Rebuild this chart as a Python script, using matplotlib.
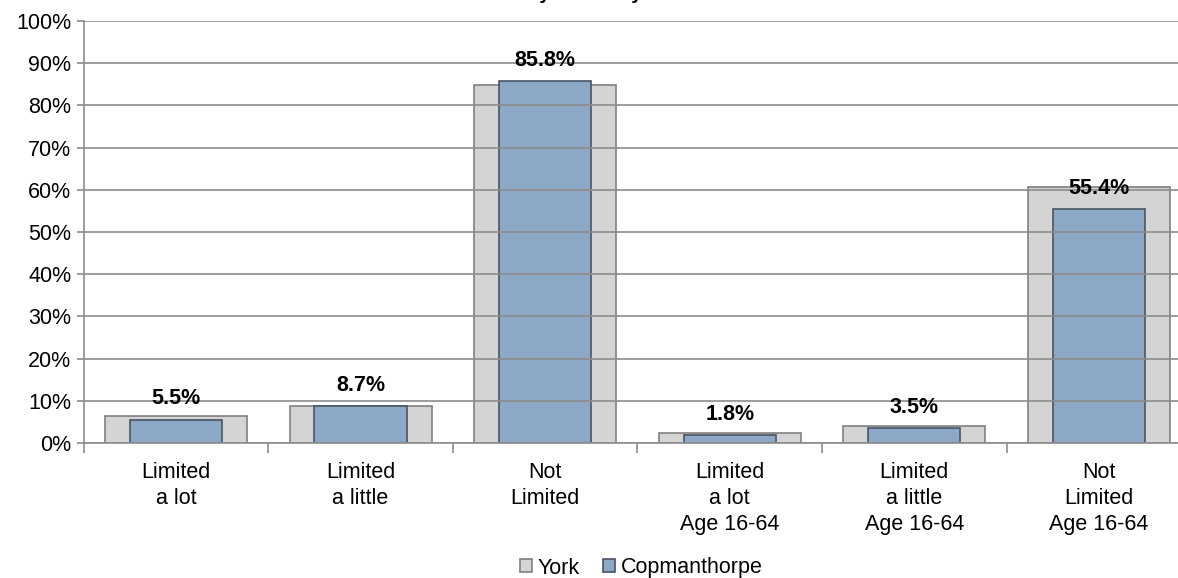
import matplotlib
matplotlib.use("Agg")
import matplotlib.pyplot as plt
import numpy as np

plt.rcParams['font.family'] = ['Liberation Sans', 'DejaVu Sans']

categories = ["Limited\na lot", "Limited\na little", "Not\nLimited",
              "Limited\na lot\nAge 16-64", "Limited\na little\nAge 16-64",
              "Not\nLimited\nAge 16-64"]
york = [6.5, 8.8, 84.8, 2.4, 4.0, 60.6]
copmanthorpe = [5.5, 8.7, 85.8, 1.8, 3.5, 55.4]
yticks = [0, 10, 20, 30, 40, 50, 60, 70, 80, 90, 100]

fig = plt.figure(figsize=(11.78, 5.78), dpi=100)
# plot area runs a little past the right edge, as in the original
ax = fig.add_axes([0.0711, 0.2336, 0.940, 0.730])

x = np.arange(len(categories))
ax.bar(x, york, width=0.77, color="#D4D4D4", edgecolor="#808080",
       linewidth=1.2, label="York", zorder=1)
ax.bar(x, copmanthorpe, width=0.50, color="#8DA8C7", edgecolor="#4A5463",
       linewidth=1.2, label="Copmanthorpe", zorder=2)

for xi, v in zip(x, copmanthorpe):
    ax.annotate("{:.1f}%".format(v), (xi, v), xytext=(0, 15),
                textcoords="offset points", ha="center", va="center",
                fontsize=15.5, fontweight="bold", zorder=5)

ax.set_xlim(-0.5, len(categories) - 0.5)
ax.set_ylim(0, 100)
ax.set_yticks(yticks)
ax.set_yticklabels(["{}%".format(t) for t in yticks], fontsize=15.5)
ax.yaxis.grid(True, color="#8C8C8C", linewidth=1.2, zorder=3)
ax.set_axisbelow(False)
ax.tick_params(axis="y", length=5, color="#8C8C8C", width=1.2, pad=4)

ax.set_xticks(x)
ax.set_xticklabels(categories, fontsize=15.5, linespacing=1.31, va="top")
ax.tick_params(axis="x", which="major", length=0, pad=14)
ax.set_xticks(np.arange(len(categories) + 1) - 0.5, minor=True)
ax.tick_params(axis="x", which="minor", length=7, color="#8C8C8C", width=1.2)

for s in ["top", "right"]:
    ax.spines[s].set_visible(False)
ax.spines["left"].set_color("#8C8C8C")
ax.spines["left"].set_linewidth(1.2)
ax.spines["bottom"].set_color("#8C8C8C")
ax.spines["bottom"].set_linewidth(1.2)

# title sits above the visible area, only its descenders show
fig.text(502 / 1178, 1 + 1 / 578, "Activities Limited by Disability", ha="center",
         va="baseline", fontsize=14, fontweight="bold")

fig.legend(loc="center", bbox_to_anchor=(0.5445, 1 - 568 / 578), ncol=2,
           frameon=False, fontsize=15.5, handlelength=0.55, handleheight=0.55,
           handletextpad=0.25, columnspacing=1.1)

fig.savefig("out.png", dpi=100)
